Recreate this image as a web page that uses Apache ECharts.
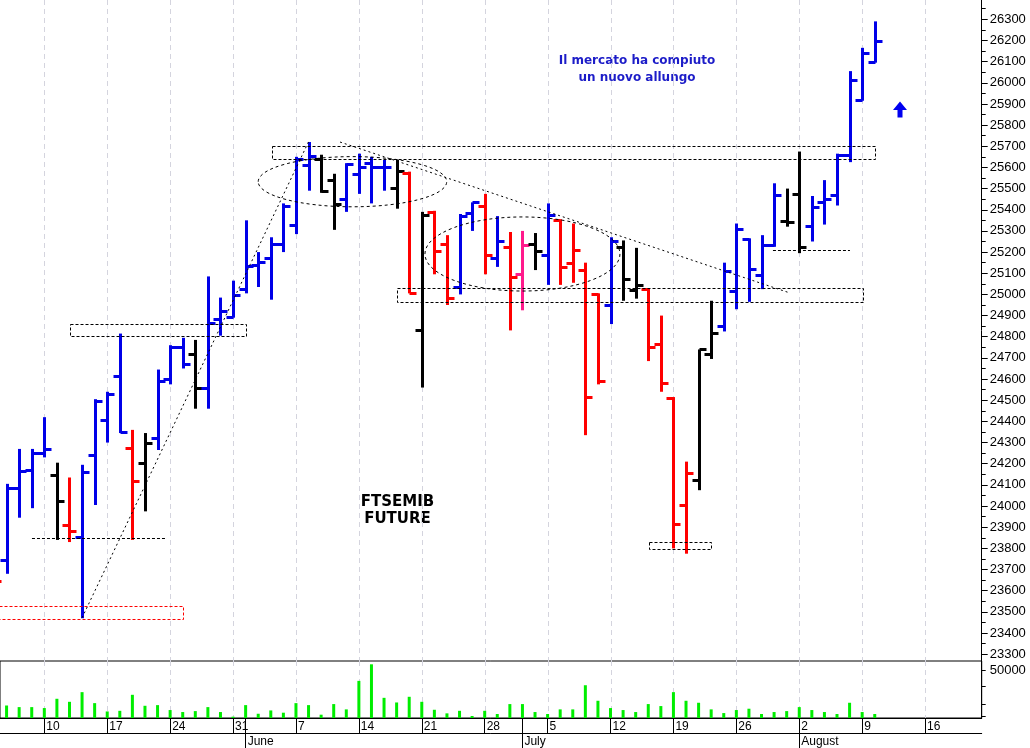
<!DOCTYPE html>
<html><head><meta charset="utf-8">
<script src="https://cdn.jsdelivr.net/npm/echarts@6/dist/echarts.min.js"></script>
<style>html,body{margin:0;padding:0;background:#fff}#c{width:1030px;height:748px}</style>
</head><body><div id="c"></div>
<script>
// trading-day index: Mon 3 May 2021 = 0 ; first bar = Tue 4 May
const firstBar = 1;
const opens  = [23780,23745,24085,24170,24250,24145,23910,23855,24240,24405,24615,24275,24205,24320,24600,24750,24720,24560,24885,24895,25025,25140,25170,25240,25330,25610,25640,25540,25450,25570,25620,25600,25505,25575,24830,25390,25240,25035,25385,25420,25170,25225,25095,25240,25185,25350,25150,25115,25000,24950,25225,25020,25025,24765,24510,24005,24125,24720,24850,25015,25260,25090,25235,25345,25475,25325,25435,25470,25660,25920,26100];
const highs  = [23800,24105,24270,24270,24420,24205,24135,24195,24505,24540,24815,24360,24345,24645,24760,24795,24785,25085,24985,25065,25350,25200,25270,25430,25650,25720,25660,25570,25620,25665,25650,25635,25635,25580,25390,25395,25280,25380,25435,25475,25370,25295,25300,25290,25430,25355,25335,25150,25005,25270,25255,25220,25030,24900,24515,24210,24740,24970,25150,25335,25265,25280,25525,25500,25675,25465,25540,25665,26055,26165,26290];
const lows   = [23620,23680,23945,23990,24230,23840,23830,23470,24005,24300,24345,23840,23975,24265,24575,24650,24460,24460,24805,24890,25005,25035,24975,25200,25285,25490,25480,25305,25390,25475,25430,25490,25405,25005,24560,25095,24950,25000,25300,25095,25130,24830,24925,25115,25045,25045,25055,24335,24575,24860,24970,24980,24685,24540,23800,23775,24075,24695,24825,24930,24965,25025,25225,25320,25195,25250,25330,25420,25625,25915,26095];
const closes = [23645,24085,24165,24250,24270,24025,23880,24160,24495,24530,24350,24120,24300,24590,24750,24670,24560,24865,24920,24995,25135,25155,25240,25420,25640,25655,25490,25425,25615,25600,25600,25600,25585,25005,25375,25205,24985,25370,25435,25185,25250,25080,25235,25205,25375,25130,25210,24515,24590,25250,25075,25045,24750,24580,23915,24155,24740,24820,25110,25310,25120,25235,25470,25340,25225,25415,25450,25660,26015,26140,26195];
// b = blue, r = red, k = black, m = magenta
const barColors = ['r','b','b','b','b','k','r','b','b','b','b','r','k','b','b','b','k','b','b','b','b','b','b','b','b','b','k','k','b','b','b','b','k','r','k','r','r','b','b','r','b','r','m','k','b','r','r','r','r','b','k','k','r','r','r','r','k','k','b','b','b','b','b','k','k','b','b','b','b','b','b'];
const volumes = [9000,13200,11500,11500,10500,20300,17100,27300,15700,6900,7600,24500,12900,13600,8400,6300,7300,11500,6300,1400,13600,4500,8000,5600,15700,13600,3500,14700,9100,39200,56700,21300,16400,22400,17100,8700,4900,7600,2100,7600,4200,14700,14700,6300,4200,9100,9100,34600,18200,10500,8400,6300,14700,12600,27300,18200,16100,9100,5200,8400,9800,4200,6300,7300,11500,8400,6300,4200,16100,6300,4200];

// Mondays (trading-day index) and their labels
const mondays = [5,10,15,20,25,30,35,40,45,50,55,60,65,70,75];
const dateLabels = ['10','17','24','31','7','14','21','28','5','12','19','26','2','9','16'];
const monthStarts = [21,43,65];
const monthNames = ['June','July','August'];
const priceLabels = [23300,23400,23500,23600,23700,23800,23900,24000,24100,24200,24300,24400,24500,24600,24700,24800,24900,25000,25100,25200,25300,25400,25500,25600,25700,25800,25900,26000,26100,26200,26300];
const priceMinor = [23350,23450,23550,23650,23750,23850,23950,24050,24150,24250,24350,24450,24550,24650,24750,24850,24950,25050,25150,25250,25350,25450,25550,25650,25750,25850,25950,26050,26150,26250,26350];
const volumeLabels = [50000];
const volumeTicks = [50000,33200,15000,1700];

// annotations in data coordinates [x1, x2, y1, y2]
const boxes = [[7.04,21.0,24804,24860],[23.07,70.96,25643,25703],[33.0,70.04,24963,25029],[53.08,58.04,23801,23832]];
const redBoxes = [[-1,16.0,23467,23529]];
const levelLines = [[4.02,14.75,23848],[62.91,69.03,25210]];
const trendLines = [[8,23472,26,25721],[28.5,25720,64.1,25010]];
const ellipses = [[22.0,36.98,25414,25651],[35.25,50.75,25016,25366]];

const colorMap = {b:'#0000e8', r:'#ff0000', k:'#000000', m:'#ff1a8c'};
const ohlcData = opens.map((o,i)=>[firstBar+i, o, highs[i], lows[i], closes[i]]);
const volData = volumes.map((v,i)=>[firstBar+i, v]);
const mondayData = mondays.map(m=>[m]);

const chart = echarts.init(document.getElementById('c'), null, {renderer:'canvas'});
const XMIN = 1.478, XMAX = 79.5;
const font = 'Liberation Sans';

function rectItem(color, dash){
  return function(params, api){
    const a = api.coord([api.value(0), api.value(3)]);
    const b = api.coord([api.value(1), api.value(2)]);
    return {type:'rect', shape:{x:Math.round(a[0])+0.5, y:Math.round(a[1])+0.5, width:Math.round(b[0]-a[0]), height:Math.round(b[1]-a[1])},
      style:{fill:null, stroke:color, lineWidth:1, lineDash:dash}};
  };
}
function gridLineItem(yRef){
  return function(params, api){
    const p = api.coord([api.value(0), yRef]);
    const cs = params.coordSys;
    const x = Math.round(p[0]) + 0.5;
    return {type:'line', shape:{x1:x, y1:cs.y, x2:x, y2:cs.y+cs.height}, style:{stroke:'#d4d4de', lineWidth:1, lineDash:[5,4]}};
  };
}
function dateFmt(v){ const k = mondays.indexOf(Math.round(v)); return k >= 0 ? dateLabels[k] : ''; }

const option = {
  animation:false,
  backgroundColor:'#fff',
  textStyle:{fontFamily:font},
  grid:[
    {left:0, right:48.3, top:0, bottom:87},
    {left:0, right:48.3, top:661, bottom:29.7, show:true, borderColor:'#000', borderWidth:1, backgroundColor:'rgba(0,0,0,0)'}
  ],
  xAxis:[
    {type:'value', gridIndex:0, min:XMIN, max:XMAX, axisLine:{show:false, onZero:false},
      axisTick:{show:false}, axisLabel:{show:false}, splitLine:{show:false}},
    {type:'value', gridIndex:1, min:XMIN, max:XMAX, position:'bottom',
      axisLine:{show:true, onZero:false, lineStyle:{color:'#000', width:1}},
      axisTick:{show:true, customValues:mondays, length:15, lineStyle:{color:'#000'}},
      axisLabel:{show:true, customValues:mondays, margin:3, fontSize:12, color:'#000', align:'left', padding:[0,0,0,2], formatter:dateFmt},
      splitLine:{show:false}},
    {type:'value', gridIndex:1, min:XMIN, max:XMAX, position:'bottom', offset:0,
      axisLine:{show:false, onZero:false}, axisLabel:{show:false, customValues:monthStarts}, splitLine:{show:false},
      axisTick:{show:true, customValues:monthStarts, length:30, lineStyle:{color:'#000'}}},
    {type:'value', gridIndex:1, min:XMIN, max:XMAX, position:'bottom', offset:15,
      axisLine:{show:true, onZero:false, lineStyle:{color:'#000', width:1}}, axisTick:{show:false, customValues:monthStarts}, splitLine:{show:false},
      axisLabel:{show:true, customValues:monthStarts, margin:3, fontSize:12, color:'#000', align:'left', padding:[0,0,0,2],
        formatter:(v)=>{const k=monthStarts.indexOf(Math.round(v)); return k>=0 ? monthNames[k] : '';}}}
  ],
  yAxis:[
    {type:'value', gridIndex:0, position:'right', min:23268, max:26391,
      axisLine:{show:true, onZero:false, lineStyle:{color:'#000', width:1}},
      axisTick:{show:true, customValues:priceLabels, length:6, lineStyle:{color:'#000'}},
      axisLabel:{show:true, customValues:priceLabels, margin:8, fontSize:13, color:'#000', formatter:(v)=>String(v)},
      splitLine:{show:false}},
    {type:'value', gridIndex:0, position:'right', min:23268, max:26391,
      axisLine:{show:false, onZero:false},
      axisTick:{show:true, customValues:priceMinor, length:4, lineStyle:{color:'#000'}},
      axisLabel:{show:false}, splitLine:{show:false}},
    {type:'value', gridIndex:1, position:'right', min:0, max:60190,
      axisLine:{show:true, onZero:false, lineStyle:{color:'#000', width:1}},
      axisTick:{show:true, customValues:volumeTicks, length:4, lineStyle:{color:'#000'}},
      axisLabel:{show:true, customValues:volumeLabels, margin:8, fontSize:13, color:'#000', formatter:(v)=>String(v)},
      splitLine:{show:false}}
  ],
  series:[
    {type:'custom', xAxisIndex:0, yAxisIndex:0, data:mondayData, silent:true, encode:{x:0}, renderItem:gridLineItem(25000), z:1},
    {type:'custom', xAxisIndex:1, yAxisIndex:2, data:mondayData, silent:true, encode:{x:0}, renderItem:gridLineItem(0), z:1},
    {type:'bar', xAxisIndex:1, yAxisIndex:2, data:volData, barWidth:3, silent:true,
      itemStyle:{color:'#00ee00'}},
    {type:'custom', xAxisIndex:0, yAxisIndex:0, data:ohlcData, silent:true, clip:true,
      encode:{x:0, y:[1,2,3,4]},
      renderItem:function(params, api){
        const x = api.value(0);
        const pO = api.coord([x, api.value(1)]);
        const pH = api.coord([x, api.value(2)]);
        const pL = api.coord([x, api.value(3)]);
        const pC = api.coord([x, api.value(4)]);
        const col = colorMap[barColors[params.dataIndex]];
        const cx = Math.round(pH[0]) + 0.5;
        const oy = Math.round(pO[1]) + 0.5, cy = Math.round(pC[1]) + 0.5;
        return {type:'group', children:[
          {type:'line', shape:{x1:cx, y1:pH[1], x2:cx, y2:pL[1]}, style:{stroke:col, lineWidth:3}},
          {type:'line', shape:{x1:cx-7, y1:oy, x2:cx, y2:oy}, style:{stroke:col, lineWidth:3}},
          {type:'line', shape:{x1:cx, y1:cy, x2:cx+7, y2:cy}, style:{stroke:col, lineWidth:3}}
        ]};
      }},
    {type:'custom', xAxisIndex:0, yAxisIndex:0, data:boxes, silent:true, clip:true,
      encode:{x:[0,1], y:[2,3]}, renderItem:rectItem('#000',[3,2])},
    {type:'custom', xAxisIndex:0, yAxisIndex:0, data:redBoxes, silent:true, clip:true,
      encode:{x:[0,1], y:[2,3]}, renderItem:rectItem('#ff0000',[3,2])},
    {type:'custom', xAxisIndex:0, yAxisIndex:0, data:levelLines, silent:true, clip:true,
      encode:{x:[0,1], y:2},
      renderItem:function(params, api){
        const a = api.coord([api.value(0), api.value(2)]);
        const b = api.coord([api.value(1), api.value(2)]);
        const y = Math.round(a[1]) + 0.5;
        return {type:'line', shape:{x1:a[0], y1:y, x2:b[0], y2:y}, style:{stroke:'#000', lineWidth:1, lineDash:[3,2]}};
      }},
    {type:'custom', xAxisIndex:0, yAxisIndex:0, data:trendLines, silent:true, clip:true,
      encode:{x:[0,2], y:[1,3]},
      renderItem:function(params, api){
        const a = api.coord([api.value(0), api.value(1)]);
        const b = api.coord([api.value(2), api.value(3)]);
        return {type:'line', shape:{x1:a[0], y1:a[1], x2:b[0], y2:b[1]}, style:{stroke:'#000', lineWidth:1, lineDash:[2,3]}};
      }},
    {type:'custom', xAxisIndex:0, yAxisIndex:0, data:ellipses, silent:true, clip:true,
      encode:{x:[0,1], y:[2,3]},
      renderItem:function(params, api){
        const a = api.coord([api.value(0), api.value(3)]);
        const b = api.coord([api.value(1), api.value(2)]);
        return {type:'ellipse', shape:{cx:(a[0]+b[0])/2, cy:(a[1]+b[1])/2, rx:(b[0]-a[0])/2, ry:(b[1]-a[1])/2},
          style:{fill:null, stroke:'#000', lineWidth:1, lineDash:[3,3]}};
      }}
  ],
  graphic:[
    {type:'text', x:637, y:61, style:{text:'Il mercato ha compiuto', font:'bold 12px "DejaVu Sans"', fill:'#1c1cc8', align:'center', verticalAlign:'middle', textAlign:'center', textVerticalAlign:'middle'}},
    {type:'text', x:637, y:78, style:{text:'un nuovo allungo', font:'bold 12px "DejaVu Sans"', fill:'#1c1cc8', align:'center', verticalAlign:'middle', textAlign:'center', textVerticalAlign:'middle'}},
    {type:'text', x:397.5, y:502, style:{text:'FTSEMIB', font:'bold 15px "DejaVu Sans"', fill:'#000', align:'center', verticalAlign:'middle', textAlign:'center', textVerticalAlign:'middle'}},
    {type:'text', x:397.5, y:519.5, style:{text:'FUTURE', font:'bold 15px "DejaVu Sans"', fill:'#000', align:'center', verticalAlign:'middle', textAlign:'center', textVerticalAlign:'middle'}},
    {type:'polygon', shape:{points:[[893,110],[900,101.5],[907,110],[902.5,110],[902.5,117.5],[897.5,117.5],[897.5,110]]}, style:{fill:'#0000f0'}}
  ]
};
chart.setOption(option);
</script>
</body></html>
